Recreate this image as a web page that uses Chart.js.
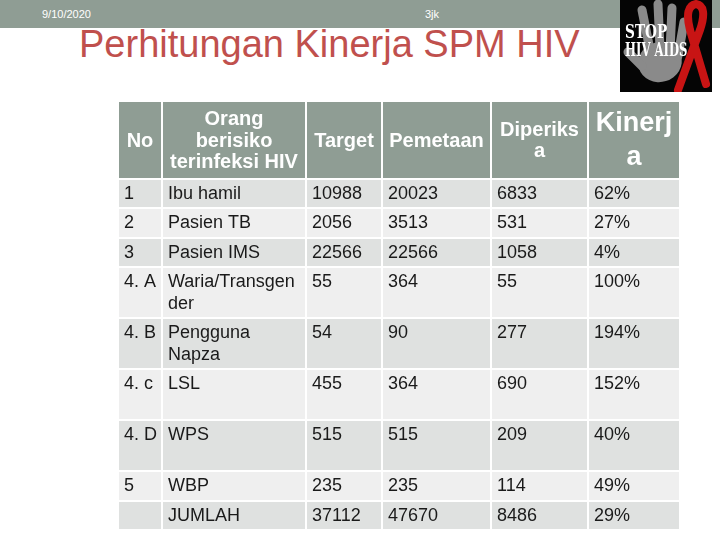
<!DOCTYPE html>
<html>
<head>
<meta charset="utf-8">
<script src="https://cdn.jsdelivr.net/npm/chart.js@4.4.1/dist/chart.umd.min.js"></script>
<style>
  html, body { margin:0; padding:0; background:#fff; }
  #slide { position:relative; width:720px; height:540px; overflow:hidden; font-family:"Liberation Sans", Arial, sans-serif; }
  #band { position:absolute; left:0; top:0; width:720px; height:28px; background:#8f9d94; }
  #date { position:absolute; left:42px; top:8px; font-size:11px; color:#fff; }
  #foot { position:absolute; left:425px; top:8px; font-size:11px; color:#fff; }
  #title { position:absolute; left:79px; top:23px; font-size:38px; color:#c0504d; white-space:nowrap; }
  #logo { position:absolute; left:620px; top:0; }
  #tbl { position:absolute; left:118px; top:101px; }
</style>
</head>
<body>
<div id="slide">
  <div id="band"></div>
  <div id="date">9/10/2020</div>
  <div id="foot">3jk</div>
  <div id="title">Perhitungan Kinerja SPM HIV</div>
  <canvas id="logo" width="92" height="92"></canvas>
  <canvas id="tbl" width="562" height="429"></canvas>
</div>
<script>
// ---- data ----
const headNo = ['No'];
const headGroup = ['Orang', 'berisiko', 'terinfeksi HIV'];
const headTarget = ['Target'];
const headPemetaan = ['Pemetaan'];
const headDiperiksa = ['Diperiks', 'a'];
const headKinerja = ['Kinerj', 'a'];

const rowNo = ['1', '2', '3', '4. A', '4. B', '4. c', '4. D', '5', ''];
const groups = ['Ibu hamil', 'Pasien TB', 'Pasien IMS', 'Waria/Transgen\nder', 'Pengguna\nNapza', 'LSL', 'WPS', 'WBP', 'JUMLAH'];
const target = [10988, 2056, 22566, 55, 54, 455, 515, 235, 37112];
const pemetaan = [20023, 3513, 22566, 364, 90, 364, 515, 235, 47670];
const diperiksa = [6833, 531, 1058, 55, 277, 690, 209, 114, 8486];
const kinerja = [62, 27, 4, 100, 194, 152, 40, 49, 29];

// ---- layout (table units) ----
const colW = [44, 144, 76, 109, 97, 92];
const headH = 78;
const rowH = [29, 30, 29, 51, 51, 51, 51, 30, 29];

const colX = [0];
colW.forEach(w => colX.push(colX[colX.length - 1] + w));
const rowY = [headH];
rowH.forEach(h => rowY.push(rowY[rowY.length - 1] + h));
const totW = colX[colX.length - 1];
const totH = rowY[rowY.length - 1];

const headers = [headNo, headGroup, headTarget, headPemetaan, headDiperiksa, headKinerja];
const bodyCols = [
  rowNo,
  groups,
  target.map(String),
  pemetaan.map(String),
  diperiksa.map(String),
  kinerja.map(v => v + '%')
];

// one dataset per column; each point is a cell anchored at its top-left corner
const datasets = headers.map((h, c) => {
  const pts = [{ x: colX[c], y: 0, x2: colX[c + 1], y2: headH, lines: h, head: true, big: c === 5 }];
  bodyCols[c].forEach((t, r) => {
    pts.push({ x: colX[c], y: rowY[r], x2: colX[c + 1], y2: rowY[r + 1], lines: t.split('\n'), head: false, row: r });
  });
  return { data: pts, pointRadius: 0, pointHoverRadius: 0 };
});

const tablePlugin = {
  id: 'tableCells',
  beforeDatasetsDraw(chart) {
    const ctx = chart.ctx;
    const xs = chart.scales.x, ys = chart.scales.y;
    ctx.save();
    chart.data.datasets.forEach(ds => {
      ds.data.forEach(p => {
        const x1 = xs.getPixelForValue(p.x), x2 = xs.getPixelForValue(p.x2);
        const y1 = ys.getPixelForValue(p.y), y2 = ys.getPixelForValue(p.y2);
        let fill;
        if (p.head) fill = '#8f9d94';
        else fill = (p.row % 2 === 0) ? '#dfe1e0' : '#efefef';
        ctx.fillStyle = fill;
        ctx.fillRect(x1 + 1, y1 + 1, x2 - x1 - 2, y2 - y1 - 2);
        if (p.head) {
          ctx.fillStyle = '#ffffff';
          ctx.textAlign = 'center';
          ctx.textBaseline = 'middle';
          const fs = p.big ? 27 : 20;
          const lh = p.big ? 34 : 21.5;
          ctx.font = 'bold ' + fs + 'px "Liberation Sans", Arial, sans-serif';
          const cx = (x1 + x2) / 2, cy = (y1 + y2) / 2;
          const n = p.lines.length;
          p.lines.forEach((ln, i) => {
            ctx.fillText(ln, cx, cy + (i - (n - 1) / 2) * lh + 1);
          });
        } else {
          ctx.fillStyle = '#1a1a1a';
          ctx.textAlign = 'left';
          ctx.textBaseline = 'middle';
          ctx.font = '18px "Liberation Sans", Arial, sans-serif';
          p.lines.forEach((ln, i) => {
            ctx.fillText(ln, x1 + 6, y1 + 15 + i * 22);
          });
        }
      });
    });
    ctx.restore();
  }
};

new Chart(document.getElementById('tbl'), {
  type: 'scatter',
  data: { datasets },
  options: {
    responsive: false,
    animation: false,
    events: [],
    layout: { padding: 0 },
    plugins: { legend: { display: false }, tooltip: { enabled: false } },
    scales: {
      x: { type: 'linear', min: 0, max: totW, display: false },
      y: { type: 'linear', min: 0, max: totH, reverse: true, display: false }
    }
  },
  plugins: [tablePlugin]
});

// ---- logo ----
(function () {
  const c = document.getElementById('logo').getContext('2d');
  c.fillStyle = '#050505';
  c.fillRect(0, 0, 92, 92);
  // hand
  c.fillStyle = '#8a8a8a';
  c.beginPath();
  c.ellipse(40, 62, 22, 20, -0.3, 0, Math.PI * 2);
  c.fill();
  c.lineCap = 'round';
  c.strokeStyle = '#8a8a8a';
  c.lineWidth = 9;
  [[30, 50, 22, 10], [40, 48, 38, 4], [50, 50, 52, 8], [58, 56, 64, 22], [22, 66, 8, 52]].forEach(f => {
    c.beginPath(); c.moveTo(f[0], f[1]); c.lineTo(f[2], f[3]); c.stroke();
  });
  // ribbon
  c.strokeStyle = '#c81414';
  c.lineWidth = 8;
  c.beginPath();
  c.moveTo(58, 90);
  c.lineTo(80, 30);
  c.quadraticCurveTo(88, 6, 76, 4);
  c.quadraticCurveTo(64, 6, 70, 30);
  c.lineTo(86, 84);
  c.stroke();
  // text
  c.fillStyle = '#ffffff';
  c.textBaseline = 'alphabetic';
  c.font = 'bold 19px "DejaVu Serif Condensed", "DejaVu Serif", serif';
  c.save(); c.scale(0.8, 1); c.fillText('STOP', 5 / 0.8, 38); c.restore();
  c.save(); c.scale(0.68, 1); c.fillText('HIV AIDS', 5 / 0.68, 56); c.restore();
})();
</script>
</body>
</html>
